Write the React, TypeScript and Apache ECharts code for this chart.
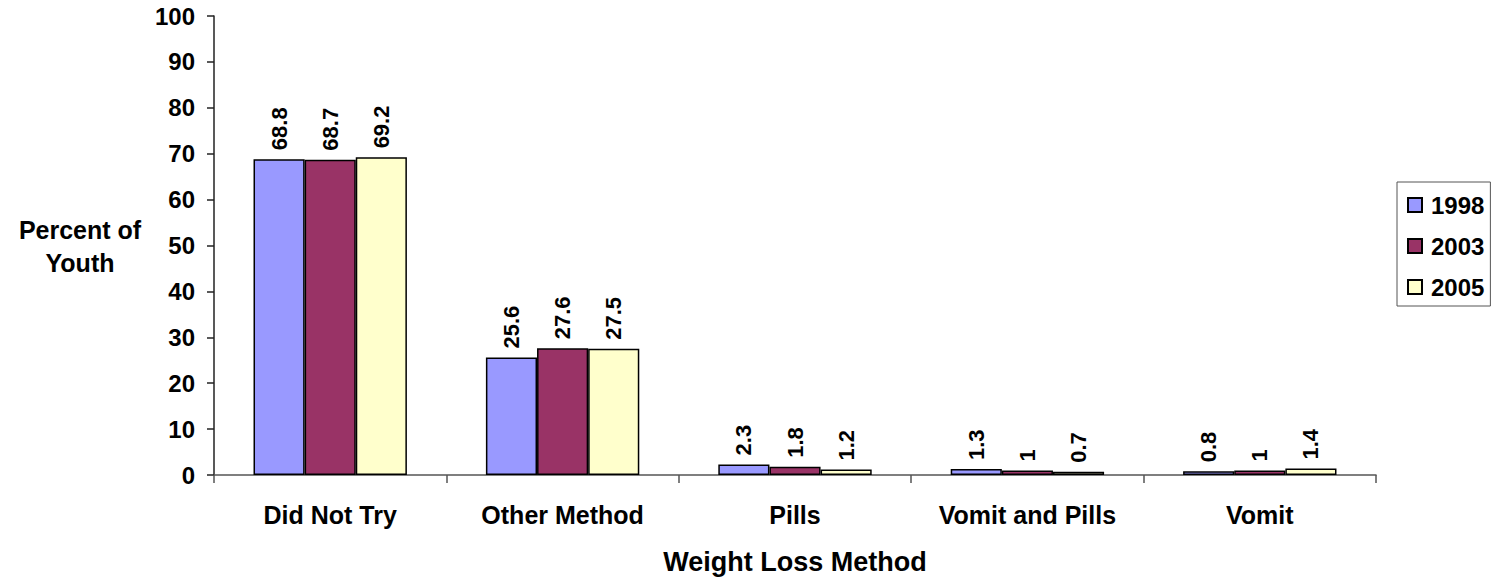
import React, { useEffect, useRef } from "react";
import * as echarts from "echarts";

const categories = ["Did Not Try", "Other Method", "Pills", "Vomit and Pills", "Vomit"];
const seriesNames = ["1998", "2003", "2005"];
const values1998 = [68.8, 25.6, 2.3, 1.3, 0.8];
const values2003 = [68.7, 27.6, 1.8, 1, 1];
const values2005 = [69.2, 27.5, 1.2, 0.7, 1.4];
const colors = ["#9999FF", "#993366", "#FFFFCC"];

export default function App() {
  const ref = useRef<HTMLDivElement>(null);
  useEffect(() => {
    document.body.style.margin = "0";
    if (!ref.current) return;
    const chart = echarts.init(ref.current, null, { renderer: "svg" });
    const font = "Arial, 'Liberation Sans', sans-serif";
    const data = [values1998, values2003, values2005];
    chart.setOption({
      animation: false,
      textStyle: { fontFamily: font },
      grid: { left: 214, right: 117, top: 16, bottom: 105, containLabel: false },
      legend: {
        orient: "vertical",
        left: 1397,
        top: 182,
        padding: [11, 6, 7, 10],
        itemWidth: 14,
        itemHeight: 14,
        itemGap: 17,
        borderColor: "#555",
        borderWidth: 1,
        icon: "rect",
        data: seriesNames,
        textStyle: {
          fontSize: 24,
          fontWeight: "bold",
          color: "#000",
          lineHeight: 24,
          fontFamily: font,
          padding: [0, 0, 0, 4],
        },
      },
      xAxis: {
        type: "category",
        data: categories,
        axisLine: { lineStyle: { color: "#555", width: 1.5 } },
        axisTick: { show: true, length: 8, lineStyle: { color: "#555", width: 1.5 } },
        axisLabel: { fontSize: 25, fontWeight: "bold", color: "#000", margin: 27, fontFamily: font },
      },
      yAxis: {
        type: "value",
        min: 0,
        max: 100,
        interval: 10,
        splitLine: { show: false },
        axisLine: { show: true, lineStyle: { color: "#222", width: 1.5 } },
        axisTick: { show: true, length: 7, lineStyle: { color: "#222", width: 1.5 } },
        axisLabel: { fontSize: 24, fontWeight: "bold", color: "#000", margin: 19, fontFamily: font },
      },
      graphic: [
        {
          type: "text",
          x: 80,
          y: 246,
          style: {
            text: "Percent of\nYouth",
            align: "center",
            verticalAlign: "middle",
            fontSize: 25,
            lineHeight: 33,
            fontWeight: "bold",
            fill: "#000",
            fontFamily: font,
          },
        },
        {
          type: "text",
          x: 795,
          y: 562,
          style: {
            text: "Weight Loss Method",
            align: "center",
            verticalAlign: "middle",
            fontSize: 27,
            fontWeight: "bold",
            fill: "#000",
            fontFamily: font,
          },
        },
      ],
      series: seriesNames.map((name, i) => ({
        name,
        type: "bar",
        data: data[i],
        barGap: "0%",
        barCategoryGap: "34%",
        itemStyle: { color: colors[i], borderColor: "#000", borderWidth: 1.5 },
        label: {
          show: true,
          position: "top",
          rotate: 90,
          align: "left",
          verticalAlign: "middle",
          distance: 9,
          fontSize: 22,
          fontWeight: "bold",
          color: "#000",
          fontFamily: font,
        },
      })),
    });
    return () => chart.dispose();
  }, []);
  return <div ref={ref} style={{ width: 1493, height: 580 }} />;
}
